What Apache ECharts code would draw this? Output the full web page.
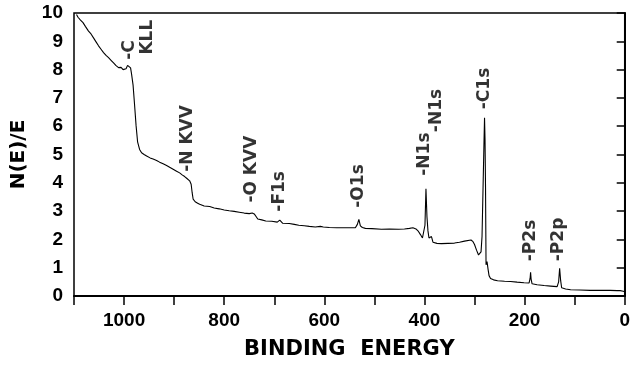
<!DOCTYPE html>
<html>
<head>
<meta charset="utf-8">
<script src="https://cdn.jsdelivr.net/npm/echarts@6/dist/echarts.min.js"></script>
<style>
  html, body { margin: 0; padding: 0; background: #fff; }
  #chart { width: 633px; height: 365px; }
</style>
</head>
<body>
<div id="chart"></div>
<script>
// spectrum (binding energy in eV, N(E)/E)
const energy = [
  1095, 1092, 1087, 1082, 1077, 1074, 1071, 1066, 1061, 1056, 1051, 1046, 1041, 1036, 1031, 1026,
  1021, 1016, 1011, 1006, 1002, 999, 996, 993, 990, 987, 985, 982, 979, 976, 973, 969,
  965, 960, 955, 948, 942, 935, 929, 922, 915, 909, 902, 896, 889, 884, 879, 875,
  872, 869, 866, 864, 862, 858, 853, 849, 840, 829, 820, 810, 800, 790, 780, 770,
  760, 750, 744, 740, 736, 733, 725, 717, 705, 694, 689, 686, 683, 670, 660, 651,
  640, 630, 618, 608, 605, 602, 590, 575, 565, 550, 538, 534, 531, 528, 524, 518,
  505, 486, 470, 452, 440, 430, 423, 417, 412, 408, 404, 401, 399, 397, 395, 393,
  391, 388, 386, 383, 375, 366, 353, 340, 330, 320, 307, 303, 300, 296, 292, 289,
  287, 285, 283, 281, 280, 279, 278, 277, 275, 273, 271, 268, 262, 254, 240, 228,
  215, 201, 191, 189, 188, 187, 185, 175, 161, 148, 135, 132, 130, 128, 126, 118,
  108, 90, 69, 50, 29, 15, 9, 3, 0
];
const intensity = [
  9.95, 9.85, 9.75, 9.66, 9.52, 9.46, 9.36, 9.26, 9.12, 8.98, 8.84, 8.72, 8.6, 8.5, 8.42, 8.33,
  8.24, 8.14, 8.07, 8.08, 8.0, 7.97, 8.03, 8.15, 8.17, 8.06, 7.84, 7.45, 6.75, 6.02, 5.45, 5.18,
  5.06, 5.0, 4.95, 4.88, 4.84, 4.79, 4.73, 4.67, 4.61, 4.55, 4.48, 4.42, 4.35, 4.28, 4.22, 4.16,
  4.1, 4.07, 3.95, 3.65, 3.42, 3.33, 3.28, 3.24, 3.18, 3.16, 3.11, 3.08, 3.04, 3.01, 2.99, 2.96,
  2.93, 2.91, 2.93, 2.9, 2.8, 2.72, 2.69, 2.65, 2.64, 2.61, 2.68, 2.64, 2.57, 2.56, 2.53, 2.5,
  2.48, 2.46, 2.44, 2.46, 2.5, 2.44, 2.42, 2.41, 2.41, 2.41, 2.41, 2.53, 2.71, 2.48, 2.42, 2.39,
  2.38, 2.36, 2.37, 2.36, 2.37, 2.39, 2.41, 2.37, 2.28, 2.17, 2.05, 2.1, 2.5, 3.79, 2.8, 2.3,
  2.05, 2.12, 2.1, 1.9, 1.86, 1.85, 1.86, 1.87, 1.9, 1.94, 1.98, 1.92, 1.82, 1.62, 1.45, 1.5,
  1.56, 2.1, 3.8, 5.5, 6.3, 5.5, 3.8, 1.1, 1.22, 0.95, 0.72, 0.62, 0.57, 0.54, 0.52, 0.51,
  0.49, 0.47, 0.46, 0.62, 0.84, 0.6, 0.43, 0.4, 0.37, 0.35, 0.33, 0.5, 0.98, 0.55, 0.29, 0.25,
  0.22, 0.21, 0.2, 0.2, 0.2, 0.19, 0.19, 0.17, 0.15
];

// peak labels: text, energy of the label, N(E)/E where the label starts
const peakNames = ['-C', 'KLL', '-N KVV', '-O KVV', '-F1s', '-O1s', '-N1s', '-N1s', '-C1s', '-P2s', '-P2p'];
const peakEnergy = [989, 954, 874, 745, 690, 532, 399, 376, 280, 189, 133];
const peakLevel = [8.35, 8.53, 4.39, 3.3, 2.98, 3.12, 4.25, 5.79, 6.6, 1.23, 1.23];

const xTicks = [0, 200, 400, 600, 800, 1000];

const chart = echarts.init(document.getElementById('chart'));

const tickFont = {
  color: '#000',
  fontFamily: 'Liberation Sans',
  fontWeight: 'bold',
  fontSize: 19,
};

chart.setOption({
  animation: false,
  grid: {
    left: 74,
    right: 5,
    top: 13,
    bottom: 67,
    show: true,
    borderColor: '#000',
    borderWidth: 1.5,
  },
  xAxis: {
    type: 'value',
    inverse: true,
    min: 0,
    max: 1100,
    interval: 100,
    name: 'BINDING  ENERGY',
    nameLocation: 'middle',
    nameGap: 43,
    nameTextStyle: {
      color: '#000',
      fontFamily: 'DejaVu Sans',
      fontWeight: 'bold',
      fontSize: 21,
    },
    axisLine: { lineStyle: { color: '#000', width: 2 } },
    axisTick: { inside: false, length: 9, lineStyle: { color: '#000', width: 1.5 } },
    axisLabel: {
      ...tickFont,
      margin: 15,
      formatter: (v) => (xTicks.includes(v) ? String(v) : ''),
    },
    splitLine: { show: false },
  },
  yAxis: {
    type: 'value',
    min: 0,
    max: 10,
    interval: 1,
    name: 'N(E)/E',
    nameLocation: 'middle',
    nameRotate: 90,
    nameGap: 45,
    nameTextStyle: {
      color: '#000',
      fontFamily: 'DejaVu Sans',
      fontWeight: 'bold',
      fontSize: 20,
    },
    axisLine: { lineStyle: { color: '#000', width: 2 } },
    axisTick: { inside: false, length: 8, lineStyle: { color: '#000', width: 1.5 } },
    axisLabel: { ...tickFont, margin: 11 },
    splitLine: { show: false },
  },
  series: [
    {
      name: 'spectrum',
      type: 'line',
      data: energy.map((e, i) => [e, intensity[i]]),
      symbol: 'none',
      lineStyle: { color: '#000', width: 1.1 },
    },
    {
      name: 'peaks',
      type: 'scatter',
      data: peakNames.map((n, i) => ({ value: [peakEnergy[i], peakLevel[i]], name: n })),
      symbolSize: 1,
      itemStyle: { color: 'rgba(0,0,0,0)' },
      label: {
        show: true,
        position: 'inside',
        rotate: 90,
        align: 'left',
        verticalAlign: 'middle',
        formatter: (p) => p.name,
        color: '#000',
        fontFamily: 'DejaVu Sans',
        fontWeight: 'bold',
        fontSize: 17,
      },
    },
  ],
});
</script>
</body>
</html>
